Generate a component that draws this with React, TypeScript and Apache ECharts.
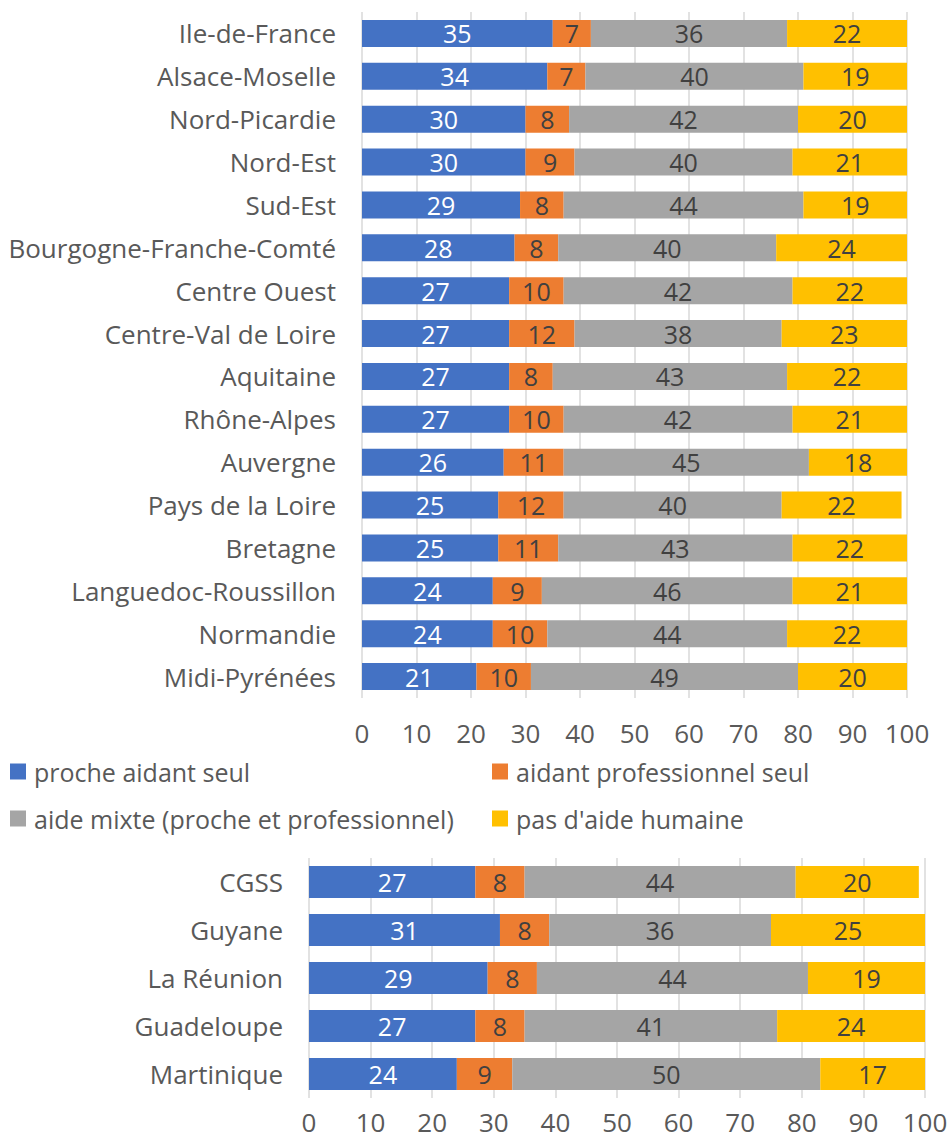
import React, { useEffect, useRef } from "react";
import * as echarts from "echarts";

const seriesNames = [
  "proche aidant seul",
  "aidant professionnel seul",
  "aide mixte (proche et professionnel)",
  "pas d'aide humaine",
];
const colors = ["#4472C4", "#ED7D31", "#A5A5A5", "#FFC000"];

const regions = [
  "Ile-de-France", "Alsace-Moselle", "Nord-Picardie", "Nord-Est", "Sud-Est",
  "Bourgogne-Franche-Comté", "Centre Ouest", "Centre-Val de Loire", "Aquitaine",
  "Rhône-Alpes", "Auvergne", "Pays de la Loire", "Bretagne",
  "Languedoc-Roussillon", "Normandie", "Midi-Pyrénées",
];
const regProche = [35, 34, 30, 30, 29, 28, 27, 27, 27, 27, 26, 25, 25, 24, 24, 21];
const regPro = [7, 7, 8, 9, 8, 8, 10, 12, 8, 10, 11, 12, 11, 9, 10, 10];
const regMixte = [36, 40, 42, 40, 44, 40, 42, 38, 43, 42, 45, 40, 43, 46, 44, 49];
const regAucune = [22, 19, 20, 21, 19, 24, 22, 23, 22, 21, 18, 22, 22, 21, 22, 20];

const dom = ["CGSS", "Guyane", "La Réunion", "Guadeloupe", "Martinique"];
const domProche = [27, 31, 29, 27, 24];
const domPro = [8, 8, 8, 8, 9];
const domMixte = [44, 36, 44, 41, 50];
const domAucune = [20, 25, 19, 24, 17];

const xTicks = [0, 10, 20, 30, 40, 50, 60, 70, 80, 90, 100];

const FONT = "'Open Sans', Lato, sans-serif";
const TEXT = "#595959";
const FS = 25;
const AXIS_FS = 26;
const LEGEND_FS = 25;

export default function App() {
  const ref = useRef<HTMLDivElement>(null);
  useEffect(() => {
    document.body.style.margin = "0";
    const chart = echarts.init(ref.current!, null, { renderer: "svg" });
    const regData = [regProche, regPro, regMixte, regAucune];
    const domData = [domProche, domPro, domMixte, domAucune];
    const mkSeries = (data: number[][], idx: number, bw: number) =>
      data.map((d, i) => ({
        name: seriesNames[i],
        type: "bar",
        stack: "s" + idx,
        xAxisIndex: idx,
        yAxisIndex: idx,
        barWidth: bw,
        data: d,
        itemStyle: { color: colors[i] },
        label: {
          show: true,
          position: "inside",
          fontSize: FS,
          fontFamily: FONT,
          color: i === 0 ? "#ffffff" : "#404040",
        },
      }));
    const xAxisBase = (gi: number, margin: number) => ({
      type: "value",
      gridIndex: gi,
      min: xTicks[0],
      max: xTicks[xTicks.length - 1],
      interval: 10,
      axisLine: { show: false },
      axisTick: { show: false },
      splitLine: { show: true, lineStyle: { color: "#d9d9d9", width: 1.5 } },
      axisLabel: { fontSize: AXIS_FS, fontFamily: FONT, color: TEXT, margin },
    });
    const yAxisBase = (gi: number, cats: string[], margin: number) => ({
      type: "category",
      gridIndex: gi,
      data: cats,
      inverse: true,
      axisLine: { show: false },
      axisTick: { show: false },
      axisLabel: { fontSize: AXIS_FS, fontFamily: FONT, color: TEXT, margin },
    });
    const legendAt = (name: string, left: number, top: number) => ({
      data: [name],
      left,
      top,
      padding: 0,
      itemWidth: 16,
      itemHeight: 16,
      icon: "rect",
      textStyle: { fontSize: LEGEND_FS, fontFamily: FONT, color: TEXT, padding: [0, 0, 0, 3] },
    });
    chart.setOption({
      animation: false,
      backgroundColor: "#ffffff",
      grid: [
        { left: 362, right: 44, top: 12, height: 686 },
        { left: 309, right: 26, top: 858, height: 240 },
      ],
      xAxis: [xAxisBase(0, 22), xAxisBase(1, 11)],
      yAxis: [yAxisBase(0, regions, 26), yAxisBase(1, dom, 26)],
      legend: [
        legendAt(seriesNames[0], 10, 759),
        legendAt(seriesNames[1], 492, 759),
        legendAt(seriesNames[2], 10, 806),
        legendAt(seriesNames[3], 492, 806),
      ],
      series: [...mkSeries(regData, 0, 27), ...mkSeries(domData, 1, 32)],
    });
    return () => chart.dispose();
  }, []);
  return <div ref={ref} style={{ width: 951, height: 1144 }} />;
}
